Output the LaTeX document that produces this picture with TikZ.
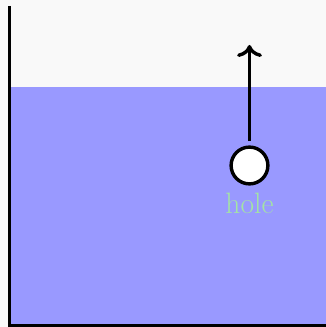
\documentclass[tikz,border=0pt]{standalone}
\usepackage{xcolor}
\usepackage{tikz}
\usetikzlibrary{arrows.meta, positioning}
\definecolor{nen}{HTML}{F9F9F9}
\definecolor{nuoc}{HTML}{9999FF}
\definecolor{chu}{HTML}{A4E4A4}

\begin{document}
\begin{tikzpicture}[x=0.025cm, y=0.025cm, line width=0.085cm]
    \useasboundingbox (0,0) rectangle (326,327);
    % Nền và nước
    \fill[nen] (0,0) rectangle (326,327);
    \fill[nuoc] (10,0) rectangle (326,240);
    
    % Thành bình
    \draw (9.5,321) -- (9.5,1.5) -- (326,1.5);
    
    % Lỗ và mũi tên
    \node[circle, draw, fill=white, inner sep=0pt, minimum size=0.92cm] (hole) at (249.5,161.5) {};
    \node[text=chu, font=\fontsize{21}{24}\selectfont] (holetext) at (249.5,124) {hole};
    \coordinate (top) at (249.5,282);
    \draw[-{To[length=0.3cm, width=0.62cm]}, shorten <=3pt] (hole.north) -- (top);
\end{tikzpicture}
\end{document}
